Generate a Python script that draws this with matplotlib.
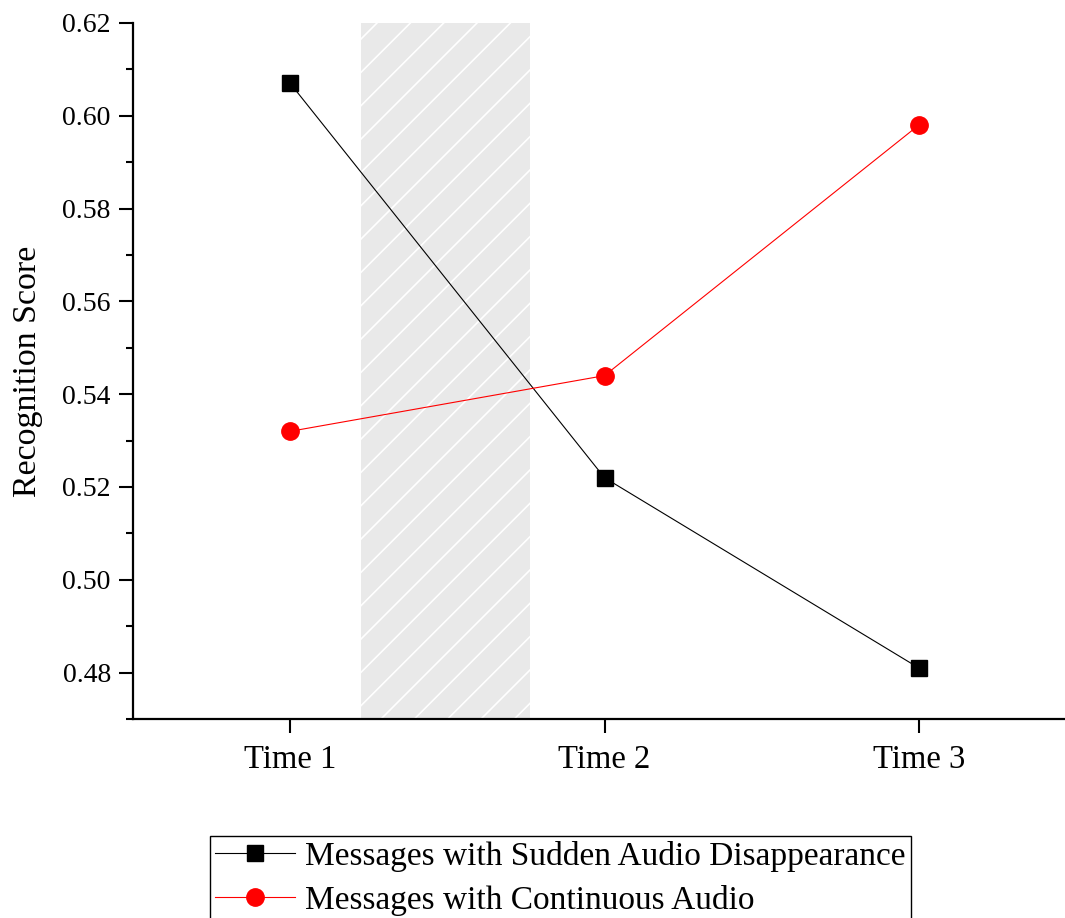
import numpy as np
import matplotlib.pyplot as plt
from matplotlib.ticker import MultipleLocator

plt.rcParams['font.family'] = ['Liberation Serif', 'DejaVu Serif']
plt.rcParams['hatch.linewidth'] = 1.2

# data
time_labels = ['Time 1', 'Time 2', 'Time 3']
sudden = [0.607, 0.522, 0.481]
continuous = [0.532, 0.544, 0.598]
series_names = ['Messages with Sudden Audio Disappearance',
                'Messages with Continuous Audio']
shade_span = (0.226, 0.764)

x = np.arange(len(time_labels))

fig = plt.figure(figsize=(10.65, 9.18), dpi=100)
ax = fig.add_axes([133 / 1065, 199 / 918, 943 / 1065, 696 / 918])

# shaded interval between Time 1 and Time 2
ax.axvspan(shade_span[0], shade_span[1], facecolor='#e9e9e9', edgecolor='white',
           hatch='/', linewidth=0, zorder=0)

ax.plot(x, sudden, color='black', linewidth=0.8, marker='s', markersize=11.5,
        label=series_names[0], zorder=3)
ax.plot(x, continuous, color='red', linewidth=0.8, marker='o', markersize=12.5,
        label=series_names[1], zorder=3)

ax.set_xlim(-0.5, 2.5)
ax.set_ylim(0.47, 0.62)
ax.set_xticks(x)
ax.set_xticklabels(time_labels)
ax.yaxis.set_major_locator(MultipleLocator(0.02))
ax.yaxis.set_minor_locator(MultipleLocator(0.01))
ax.yaxis.set_major_formatter(plt.FormatStrFormatter('%.2f'))

for side in ['top', 'right']:
    ax.spines[side].set_visible(False)
for side in ['left', 'bottom']:
    ax.spines[side].set_linewidth(1.6)

ax.tick_params(axis='y', which='major', length=10, width=1.5, labelsize=20, pad=6)
ax.tick_params(axis='y', which='minor', length=5, width=1.5)
ax.tick_params(axis='x', which='major', length=10, width=1.5, labelsize=23.5, pad=8)

ax.set_ylabel('Recognition Score', fontsize=24.5, labelpad=14)

fig.legend(loc='upper left', bbox_to_anchor=(210 / 1065, 82 / 918),
           fontsize=24, frameon=True, fancybox=False, edgecolor='black',
           framealpha=1, borderpad=0.15, labelspacing=0.38, handlelength=2.4,
           handletextpad=0.3, borderaxespad=0)
fig.legends[0].get_frame().set_linewidth(1.0)

fig.savefig('out.png', dpi=100)
